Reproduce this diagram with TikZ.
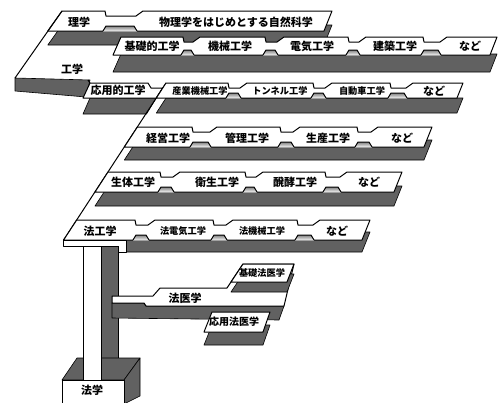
\documentclass[tikz,border=0pt]{standalone}
\usepackage{fontspec}
\newfontfamily\jp{Noto Sans CJK JP}
\newcommand{\jpbig}{\jp\bfseries\fontsize{11}{11}\selectfont}
\newcommand{\jpmid}{\jp\bfseries\fontsize{10}{10}\selectfont}
\newcommand{\jpsmall}{\jp\bfseries\fontsize{9.2}{9.2}\selectfont}
\definecolor{shade}{gray}{0.38}

% one shelf: top y, bottom y, left x (top, bottom), right x (top, bottom), seams e/s, depth
\newcommand{\shelf}[8]{%
  \draw[front] (#3,#1+#8) -- (#5,#1+#8) -- (#6,#2+#8) -- (#4,#2+#8) -- cycle;
  \draw[top] (#3,#1) \foreach \e/\s in {#7} { -- (\e,#1) -- (\e+1,#1+5) -- (\s-7,#1+5) -- (\s,#1) }
    -- (#5,#1) -- (#6,#2) -- (#4,#2) -- cycle;
  \foreach \e/\s in {#7} {
    \fill[shade] (\e-2,#2+0.5) -- (\e+1,#2-5) -- (\s-9,#2-5) -- (\s-6,#2+0.5) -- cycle;
    \draw[rim] (\e-2,#2) -- (\e+1,#2-5) -- (\s-9,#2-5) -- (\s-6,#2);
  }
}

\begin{document}
\begin{tikzpicture}[x=1pt, y=-1pt,
    top/.style={fill=white, draw=black, line width=1pt, line join=round},
    front/.style={fill=shade, draw=black, line width=0.6pt, line join=round},
    rim/.style={draw=black, line width=1pt, line join=round},
    lbl/.style={font=\jpbig, inner sep=0pt},
    midlbl/.style={font=\jpmid, inner sep=0pt},
    sublbl/.style={font=\jpsmall, inner sep=0pt}
]
\useasboundingbox (0,0) rectangle (500,402);

% 理学 row and 基礎的工学 row
\shelf{11}{31}{62}{47.8}{332}{324}{105/143}{14}
\shelf{37}{55}{121}{113}{497}{490}{183/200, 265/284, 348/366, 423/447}{17}

% 工学 plate
\draw[front] (15,78) -- (90,80) -- (86,97) -- (15,91) -- cycle;
\draw[rim] (62,11) -- (15,78);

% 応用的工学
\draw[front] (90,98) -- (156.3,98) -- (146.5,114) -- (83,114) -- cycle;
\draw[top] (90,83) -- (148,83) -- (151,88) -- (162.7,88) -- (156.3,98) -- (83,98) -- cycle;
\draw[rim] (88,80) -- (90,83);

% applied plate
\draw[rim] (166,83) -- (63.6,240);
\shelf{83}{98}{166}{156.3}{463}{457}{228/247, 313/332, 390/413}{15}
\shelf{127}{147}{137.4}{124.3}{432}{424}{192/217, 280/300, 357/378}{13}
\shelf{172}{192}{108}{95}{402}{394}{160/180, 245/263, 325/347}{14}
\shelf{220}{240}{76.7}{63.6}{370}{362}{135/155, 213/233, 297/320}{12}
\fill[white] (55,240.6) rectangle (126,256);
\draw[top] (63.6,240) -- (126,240) -- (126,252) -- (118,252) -- (118,246) -- (63.6,246) -- cycle;

% 法学 stem and block
\draw[front] (101,246) -- (118,246) -- (118,358) -- (101,358) -- cycle;
\draw[front] (62,380) -- (77,358) -- (140,358) -- (124,380) -- cycle;
\draw[front] (124,380) -- (140,358) -- (140,396) -- (124,404) -- cycle;
\draw[top] (83,246) rectangle (101,380);
\draw[top] (62,380) rectangle (124,404);

% 法医学 branch
\draw[front] (112,303) -- (144,303) -- (146,306) -- (284,306) -- (279,320) -- (112,318) -- cycle;
\draw[top] (112,296) -- (153,296) -- (160,288) -- (227,288) -- (243,264) -- (294,264) -- (284,306)
  -- (146,306) -- (144,303) -- (112,303) -- cycle;
\draw[front] (243,274) -- (294,274) -- (287,292) -- (231,292) -- cycle;
\draw[top] (243,264) -- (294,264) -- (287,282) -- (231,282) -- cycle;
\draw[front] (212,325) -- (270,325) -- (263,345) -- (204,345) -- cycle;
\draw[top] (212,312) -- (270,312) -- (263,332) -- (204,332) -- cycle;

% labels
\node[lbl] (rigaku) at (79,22) {理学};
\node[lbl] (shizen) at (236,22) {物理学をはじめとする自然科学};
\node[lbl] (kogaku) at (72,69) {工学};
\node[lbl] (kiso) at (152,46) {基礎的工学};
\node[lbl] (kikai) at (230,46) {機械工学};
\node[lbl] (denki) at (312,46) {電気工学};
\node[lbl] (kenchiku) at (395,46) {建築工学};
\node[lbl] (nadoB) at (470,46) {など};
\node[lbl] (oyo) at (118,90) {応用的工学};
\node[sublbl] (sangyo) at (200,91) {産業機械工学};
\node[sublbl] (tunnel) at (280,91) {トンネル工学};
\node[sublbl] (jidosha) at (362,91) {自動車工学};
\node[lbl] (nadoC) at (434,91) {など};
\node[lbl] (keiei) at (168,138) {経営工学};
\node[lbl] (kanri) at (247,138) {管理工学};
\node[lbl] (seisan) at (328,138) {生産工学};
\node[lbl] (nadoD) at (402,138) {など};
\node[lbl] (seitai) at (133,182) {生体工学};
\node[lbl] (eisei) at (217,182) {衛生工学};
\node[lbl] (hakko) at (295,182) {醗酵工学};
\node[lbl] (nadoE) at (369,182) {など};
\node[lbl] (hokogaku) at (100,231) {法工学};
\node[sublbl] (hodenki) at (183,231) {法電気工学};
\node[sublbl] (hokikai) at (262,231) {法機械工学};
\node[lbl] (nadoF) at (337,231) {など};
\node[lbl] (hoigaku) at (185,298) {法医学};
\node[sublbl] (kisohoi) at (262,273) {基礎法医学};
\node[midlbl] (oyohoi) at (234,322) {応用法医学};
\node[lbl] (hogaku) at (92,390) {法学};
\end{tikzpicture}
\end{document}
